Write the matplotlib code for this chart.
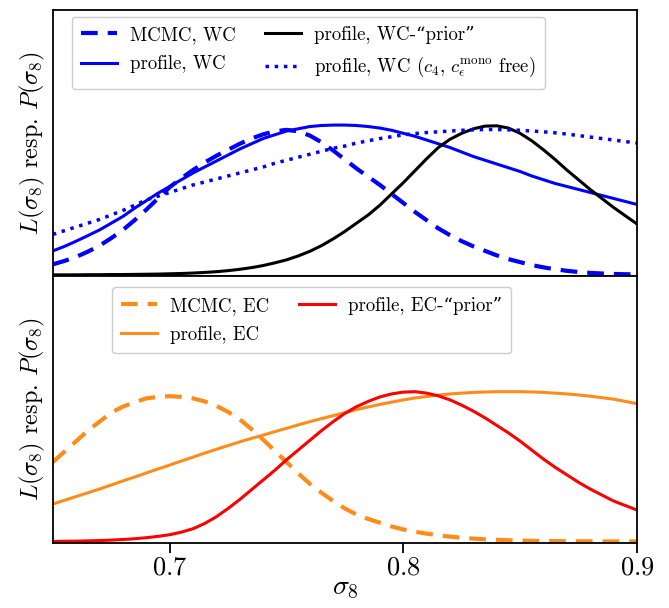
import numpy as np
import matplotlib
matplotlib.use('Agg')
import matplotlib.pyplot as plt

plt.rcParams['font.family'] = ['cmr10', 'DejaVu Serif']
plt.rcParams['mathtext.fontset'] = 'cm'
plt.rcParams['axes.formatter.use_mathtext'] = True

# sigma_8 grid
s8 = np.round(np.arange(0.65, 0.9001, 0.005), 3)

# weak coupling (WC)
mcmc_wc = [0.07, 0.093, 0.12, 0.155, 0.195, 0.245, 0.30, 0.365, 0.435, 0.51, 0.585, 0.645, 0.70,
           0.75, 0.795, 0.835, 0.875, 0.91, 0.938, 0.958, 0.968, 0.958, 0.93, 0.885, 0.83, 0.77,
           0.71, 0.655, 0.60, 0.54, 0.48, 0.42, 0.365, 0.31, 0.265, 0.225, 0.19, 0.16, 0.13,
           0.105, 0.085, 0.065, 0.05, 0.037, 0.027, 0.019, 0.013, 0.009, 0.006, 0.004, 0.003]
prof_wc = [0.16, 0.19, 0.225, 0.262, 0.30, 0.345, 0.39, 0.445, 0.495, 0.545, 0.59, 0.635, 0.68,
           0.72, 0.76, 0.80, 0.84, 0.875, 0.91, 0.935, 0.96, 0.975, 0.99, 0.997, 1.0, 1.0,
           0.997, 0.99, 0.98, 0.965, 0.945, 0.925, 0.90, 0.875, 0.85, 0.82, 0.79, 0.765, 0.74,
           0.715, 0.69, 0.66, 0.635, 0.61, 0.59, 0.57, 0.55, 0.53, 0.51, 0.49, 0.47]
prof_wc_prior = [0.0, 0.0, 0.0, 0.001, 0.001, 0.002, 0.002, 0.003, 0.004, 0.005, 0.007, 0.009,
                 0.012, 0.016, 0.021, 0.028, 0.037, 0.048, 0.062, 0.08, 0.10, 0.126, 0.157,
                 0.195, 0.24, 0.29, 0.345, 0.40, 0.465, 0.54, 0.615, 0.695, 0.775, 0.85, 0.905,
                 0.945, 0.975, 0.993, 0.995, 0.98, 0.945, 0.895, 0.835, 0.77, 0.70, 0.635, 0.57,
                 0.51, 0.45, 0.395, 0.34]
prof_wc_free = [0.27, 0.295, 0.32, 0.345, 0.37, 0.40, 0.43, 0.465, 0.50, 0.525, 0.55, 0.575,
                0.60, 0.62, 0.64, 0.66, 0.68, 0.70, 0.72, 0.745, 0.765, 0.785, 0.805, 0.825,
                0.845, 0.86, 0.88, 0.895, 0.91, 0.922, 0.935, 0.943, 0.95, 0.955, 0.96, 0.965,
                0.968, 0.97, 0.97, 0.968, 0.965, 0.96, 0.955, 0.948, 0.94, 0.93, 0.92, 0.91,
                0.90, 0.89, 0.88]

# effective coupling (EC)
mcmc_ec = [0.53, 0.60, 0.67, 0.74, 0.80, 0.86, 0.90, 0.93, 0.955, 0.965, 0.97, 0.965, 0.955,
           0.935, 0.905, 0.865, 0.815, 0.75, 0.68, 0.605, 0.53, 0.455, 0.385, 0.325, 0.27,
           0.22, 0.18, 0.15, 0.125, 0.10, 0.08, 0.065, 0.052, 0.041, 0.032, 0.025, 0.019,
           0.014, 0.011, 0.008, 0.006, 0.004, 0.003, 0.002, 0.0015, 0.001, 0.001, 0.0, 0.0,
           0.0, 0.0]
prof_ec = [0.25, 0.275, 0.30, 0.325, 0.35, 0.377, 0.404, 0.43, 0.457, 0.484, 0.51, 0.537,
           0.563, 0.59, 0.615, 0.64, 0.665, 0.688, 0.71, 0.733, 0.755, 0.778, 0.80, 0.82,
           0.84, 0.86, 0.88, 0.898, 0.915, 0.93, 0.945, 0.958, 0.968, 0.977, 0.985, 0.99,
           0.995, 0.998, 1.0, 1.0, 1.0, 0.998, 0.995, 0.99, 0.985, 0.978, 0.97, 0.96, 0.95,
           0.935, 0.92]
prof_ec_prior = [0.0, 0.001, 0.002, 0.004, 0.006, 0.009, 0.013, 0.018, 0.025, 0.034, 0.045,
                 0.062, 0.085, 0.12, 0.165, 0.22, 0.28, 0.345, 0.41, 0.475, 0.545, 0.61,
                 0.675, 0.74, 0.80, 0.855, 0.90, 0.935, 0.965, 0.985, 0.997, 1.0, 0.99, 0.972,
                 0.945, 0.91, 0.87, 0.825, 0.775, 0.725, 0.67, 0.61, 0.55, 0.495, 0.445, 0.395,
                 0.35, 0.31, 0.27, 0.24, 0.21]

orange = '#ff8c1a'
dash = (4, 2.4)

fig, (ax1, ax2) = plt.subplots(2, 1, sharex=True, figsize=(6.69, 6.08), dpi=100)
fig.subplots_adjust(left=0.079, right=0.952, top=0.984, bottom=0.107, hspace=0)

ax1.plot(s8, mcmc_wc, color='blue', lw=3, ls=(0, dash), label='MCMC, WC')
ax1.plot(s8, prof_wc, color='blue', lw=2.2, label='profile, WC')
ax1.plot(s8, prof_wc_prior, color='black', lw=2.2, label='profile, WC-\u201cprior\u201d')
ax1.plot(s8, prof_wc_free, color='blue', lw=2.5, ls=':',
         label=r'profile, WC ($c_4$, $c_\epsilon^{\rm mono}$ free)')

ax2.plot(s8, mcmc_ec, color=orange, lw=3, ls=(0, dash), label='MCMC, EC')
ax2.plot(s8, prof_ec, color=orange, lw=2.2, label='profile, EC')
ax2.plot(s8, prof_ec_prior, color='red', lw=2.2, label='profile, EC-\u201cprior\u201d')

for ax in (ax1, ax2):
    ax.set_xlim(0.65, 0.9)
    ax.set_ylim(-0.01, 1.77)
    ax.set_yticks([])
    ax.set_ylabel(r'$L(\sigma_8)$ resp. $P(\sigma_8)$', fontsize=17.5, labelpad=4)
    for sp in ax.spines.values():
        sp.set_linewidth(1.3)

leg_kw = dict(ncol=2, fontsize=13.5, handlelength=1.9, handletextpad=0.7,
              columnspacing=1.6, labelspacing=0.6, borderpad=0.5,
              framealpha=1, edgecolor='#cccccc', borderaxespad=0)
ax1.legend(loc='upper left', bbox_to_anchor=(0.032, 0.974), **leg_kw)
ax2.legend(loc='upper left', bbox_to_anchor=(0.101, 0.959), **leg_kw)

ax1.tick_params(axis='x', length=0)
ax2.set_xticks([0.7, 0.8, 0.9])
ax2.tick_params(axis='x', labelsize=19, length=7, width=1.3, pad=2, direction='out')
ax2.set_xlabel(r'$\sigma_8$', fontsize=20, labelpad=-3)

fig.savefig('out.png', dpi=100)
